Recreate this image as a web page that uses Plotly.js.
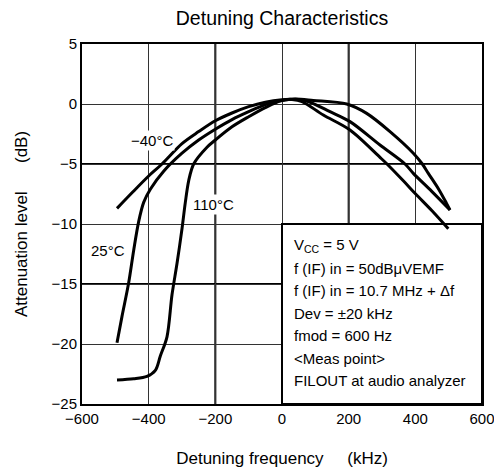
<!DOCTYPE html>
<html>
<head>
<meta charset="utf-8">
<script src="https://cdn.plot.ly/plotly-3.0.1.min.js"></script>
<style>html,body{margin:0;padding:0;background:#fff;}#chart{width:494px;height:469px;}</style>
</head>
<body>
<div id="chart"></div>
<script>
// ---- Data ----
const seriesNames = ['\u221240\u00b0C', '25\u00b0C', '110\u00b0C'];

const freqMinus40 = [-495, -450, -400, -360, -300, -250, -200, -150, -100, -50, 0, 30, 60, 124, 204, 294, 315, 364, 401, 450, 499];
const attMinus40  = [-8.7, -7.4, -6.0, -5.0, -3.3, -2.3, -1.4, -0.75, -0.22, 0.15, 0.35, 0.38, 0.2, -0.92, -2.17, -4.45, -5.0, -6.4, -7.5, -8.9, -10.4];

const freq25 = [-495, -480, -460, -445, -430, -415, -395, -355, -300, -250, -200, -150, -100, -50, 0, 40, 74, 144, 204, 294, 369, 394, 450, 504];
const att25  = [-19.9, -17.7, -14.9, -12.2, -9.8, -8.2, -7.1, -5.6, -4.1, -3.0, -2.1, -1.3, -0.64, -0.05, 0.3, 0.4, 0.25, -0.64, -1.47, -3.42, -5.0, -5.78, -7.3, -8.83];

const freq110 = [-495, -445, -405, -380, -365, -345, -330, -315, -300, -290, -280, -265, -225, -200, -150, -100, -50, 0, 40, 94, 194, 254, 324, 394, 421, 439, 470, 494, 504];
const att110  = [-23.0, -22.9, -22.7, -22.2, -21.0, -19.4, -15.9, -13.3, -10.4, -8.2, -6.4, -5.0, -3.6, -3.0, -1.9, -1.06, -0.3, 0.3, 0.42, 0.3, 0.0, -0.78, -2.3, -4.1, -5.0, -5.78, -7.1, -8.3, -8.83];

const xTicks = [-600, -400, -200, 0, 200, 400, 600];
const yTicks = [-25, -20, -15, -10, -5, 0, 5];
const boldX = [-200, 200];
const boldY = [-15, -5];

const noteLines = [
  'V<sub>CC</sub> = 5 V',
  'f (IF) in = 50dB\u03bcVEMF',
  'f (IF) in = 10.7 MHz + \u0394f',
  'Dev = \u00b120 kHz',
  'fmod = 600 Hz',
  '&lt;Meas point&gt;',
  'FILOUT at audio analyzer'
];

// ---- Styling / layout ----
const FONT = 'Liberation Sans, Arial, Helvetica, sans-serif';
const lineStyle = {color: '#000', width: 3, shape: 'spline', smoothing: 0.9};

const traces = [
  {x: freqMinus40, y: attMinus40, name: seriesNames[0]},
  {x: freq25, y: att25, name: seriesNames[1]},
  {x: freq110, y: att110, name: seriesNames[2]}
].map(t => Object.assign(t, {type: 'scatter', mode: 'lines', line: lineStyle, hoverinfo: 'skip'}));

const shapes = [];
boldX.forEach(v => shapes.push({type: 'line', xref: 'x', yref: 'paper', x0: v, x1: v, y0: 0, y1: 1,
  line: {color: '#000', width: 2}, layer: 'between'}));
boldY.forEach(v => shapes.push({type: 'line', xref: 'paper', yref: 'y', x0: 0, x1: 1, y0: v, y1: v,
  line: {color: '#000', width: 2}, layer: 'between'}));
// conditions box
shapes.push({type: 'rect', xref: 'x', yref: 'y', x0: 0, x1: 600, y0: -25, y1: -10,
  fillcolor: '#fff', line: {color: '#000', width: 2}, layer: 'between'});

const annotations = [
  {x: -389, y: -3.0, text: seriesNames[0]},
  {x: -521, y: -12.2, text: seriesNames[1]},
  {x: -206, y: -8.4, text: seriesNames[2]}
].map(a => Object.assign(a, {xref: 'x', yref: 'y', showarrow: false, bgcolor: '#fff',
  font: {family: FONT, size: 15, color: '#000'}, borderpad: 1}));

const noteY = [-11.75, -13.69, -15.5, -17.44, -19.25, -21.19, -23.08];
noteLines.forEach((t, i) => annotations.push({xref: 'x', yref: 'y', x: 30, y: noteY[i], text: t,
  xanchor: 'left', yanchor: 'middle', showarrow: false, align: 'left',
  font: {family: FONT, size: 15, color: '#000'}}));

const layout = {
  width: 494, height: 469,
  margin: {l: 82, r: 12, t: 44, b: 65},
  paper_bgcolor: '#fff', plot_bgcolor: '#fff',
  showlegend: false,
  font: {family: FONT, color: '#000'},
  title: {text: 'Detuning Characteristics', font: {family: FONT, size: 19.5, color: '#000'},
          x: 0.5, xref: 'paper', y: 1 - 18 / 469, yref: 'container', yanchor: 'middle'},
  xaxis: {range: [-600, 600], tickvals: xTicks, showgrid: true, gridcolor: '#333', gridwidth: 1,
          zeroline: false, showline: true, mirror: true, linecolor: '#000', linewidth: 2,
          ticks: '', ticklabeloverflow: 'allow', tickfont: {family: FONT, size: 15, color: '#000'},
          title: {text: 'Detuning frequency\u00a0\u00a0\u00a0\u00a0\u00a0(kHz)', font: {family: FONT, size: 17, color: '#000'}, standoff: 26}},
  yaxis: {range: [-25, 5], tickvals: yTicks, showgrid: true, gridcolor: '#333', gridwidth: 1,
          zeroline: false, showline: true, mirror: true, linecolor: '#000', linewidth: 2,
          ticks: '', ticklabeloverflow: 'allow', tickfont: {family: FONT, size: 15, color: '#000'},
          title: {text: 'Attenuation level\u00a0\u00a0\u00a0\u00a0\u00a0\u00a0(dB)', font: {family: FONT, size: 17, color: '#000'}, standoff: 20}},
  shapes: shapes,
  annotations: annotations
};

Plotly.newPlot('chart', traces, layout, {staticPlot: true, displayModeBar: false});
</script>
</body>
</html>
